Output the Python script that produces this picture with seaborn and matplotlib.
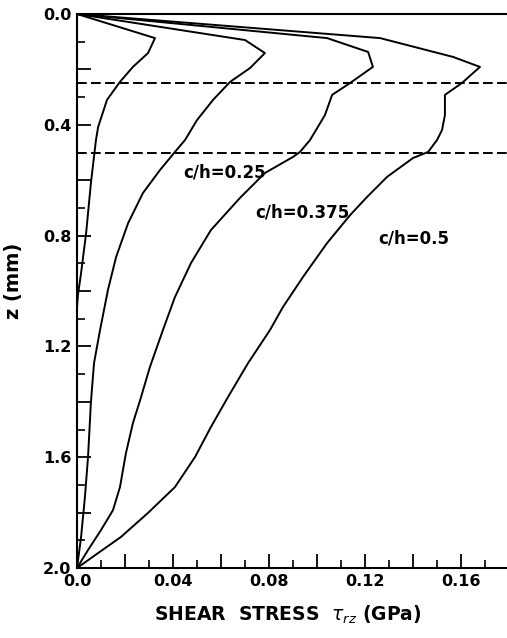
import numpy as np
import pandas as pd
import matplotlib
matplotlib.use("Agg")
import matplotlib.pyplot as plt
from matplotlib.ticker import MultipleLocator, FuncFormatter
import seaborn as sns

# shear stress profiles, tau_rz (GPa) vs depth z (mm)
z_125 = [0.0, 0.087, 0.141, 0.191, 0.245, 0.310, 0.408, 0.455, 0.610, 0.791, 0.935, 1.014, 1.06, 2.0]
tau_125 = [0.0, 0.0325, 0.0296, 0.0233, 0.0179, 0.0125, 0.0088, 0.0079, 0.0058, 0.0038, 0.0017, 0.0004, 0.0, 0.0]

z_25 = [0.0, 0.094, 0.141, 0.195, 0.245, 0.310, 0.383, 0.455, 0.498, 0.563, 0.646, 0.755,
        0.877, 0.996, 1.141, 1.260, 1.401, 1.599, 1.744, 1.888, 2.0]
tau_25 = [0.0, 0.0700, 0.0783, 0.0721, 0.0638, 0.0567, 0.0500, 0.0450, 0.0408, 0.0346, 0.0275, 0.0213,
          0.0163, 0.0129, 0.0096, 0.0071, 0.0058, 0.0046, 0.0033, 0.0017, 0.0]

z_375 = [0.0, 0.087, 0.137, 0.191, 0.249, 0.292, 0.365, 0.455, 0.498, 0.516, 0.574, 0.664, 0.780,
         0.899, 1.022, 1.141, 1.274, 1.394, 1.477, 1.585, 1.708, 1.791, 1.863, 1.935, 2.0]
tau_375 = [0.0, 0.1042, 0.1213, 0.1233, 0.1138, 0.1063, 0.1033, 0.0971, 0.0929, 0.0900, 0.0783, 0.0679, 0.0558,
           0.0475, 0.0408, 0.0358, 0.0304, 0.0263, 0.0233, 0.0204, 0.0179, 0.0150, 0.0100, 0.0046, 0.0]

z_5 = [0.0, 0.087, 0.155, 0.191, 0.249, 0.292, 0.365, 0.419, 0.455, 0.498, 0.520, 0.588, 0.661, 0.726,
       0.827, 0.949, 1.058, 1.141, 1.260, 1.383, 1.491, 1.599, 1.708, 1.801, 1.888, 1.946, 2.0]
tau_5 = [0.0, 0.1263, 0.1567, 0.1679, 0.1604, 0.1533, 0.1533, 0.1521, 0.1500, 0.1463, 0.1400, 0.1292, 0.1208, 0.1138,
         0.1042, 0.0942, 0.0858, 0.0804, 0.0713, 0.0629, 0.0558, 0.0492, 0.0408, 0.0296, 0.0183, 0.0088, 0.0]

interfaces = [0.25, 0.5]

labels = ['c/h=0.25', 'c/h=0.375', 'c/h=0.5']
label_x = [0.0442, 0.0742, 0.1254]
label_z = [0.574, 0.715, 0.809]

curves = {
    'c/h=0.125': (tau_125, z_125),
    'c/h=0.25': (tau_25, z_25),
    'c/h=0.375': (tau_375, z_375),
    'c/h=0.5': (tau_5, z_5),
}

sns.set_style("ticks")
plt.rcParams['font.family'] = ['DejaVu Sans']
plt.rcParams.update({'text.color': 'black', 'axes.labelcolor': 'black',
                     'xtick.color': 'black', 'ytick.color': 'black',
                     'axes.edgecolor': 'black'})

fig = plt.figure(figsize=(5.07, 6.38), dpi=100)
ax = fig.add_axes([77 / 507, 70 / 638, 432 / 507, 554 / 638])

for name, (tau, z) in curves.items():
    df = pd.DataFrame({'tau': tau, 'z': z})
    sns.lineplot(data=df, x='tau', y='z', sort=False, estimator=None,
                 color='black', linewidth=1.4, ax=ax)

for zi in interfaces:
    ax.axhline(zi, color='black', linewidth=1.4, linestyle=(0, (5, 2.2)))

for txt, x, z in zip(labels, label_x, label_z):
    ax.text(x, z, txt, fontsize=12, fontweight='bold', ha='left', va='center')

ax.set_xlim(0, 0.18)
ax.set_ylim(2.0, 0.0)
ax.set_xlabel('')
ax.set_ylabel('')

ax.xaxis.set_major_locator(MultipleLocator(0.02))
ax.xaxis.set_minor_locator(MultipleLocator(0.01))
ax.yaxis.set_major_locator(MultipleLocator(0.2))
ax.yaxis.set_minor_locator(MultipleLocator(0.1))


def xfmt(v, pos):
    k = int(round(v / 0.02))
    if k % 2:
        return ''
    return '0.0' if k == 0 else f'{v:.2f}'


def yfmt(v, pos):
    k = int(round(v / 0.2))
    if k % 2:
        return ''
    return f'{v:.1f}'


ax.xaxis.set_major_formatter(FuncFormatter(xfmt))
ax.yaxis.set_major_formatter(FuncFormatter(yfmt))

ax.tick_params(which='major', direction='in', length=10, width=1.3, labelsize=11.5, pad=4)
ax.tick_params(which='minor', direction='in', length=6, width=1.2)
for lab in ax.get_xticklabels() + ax.get_yticklabels():
    lab.set_fontweight('bold')

ax.spines['right'].set_visible(False)
for side in ['left', 'bottom', 'top']:
    ax.spines[side].set_linewidth(1.5)

fig.text(288 / 507, 1 - 615 / 638, r'SHEAR  STRESS  $\tau_{rz}$ (GPa)',
         fontsize=13.5, fontweight='bold', ha='center', va='center')
fig.text(14 / 507, 1 - 281 / 638, 'z (mm)', rotation=90,
         fontsize=14, fontweight='bold', ha='center', va='center')

fig.savefig('out.png', dpi=100)
